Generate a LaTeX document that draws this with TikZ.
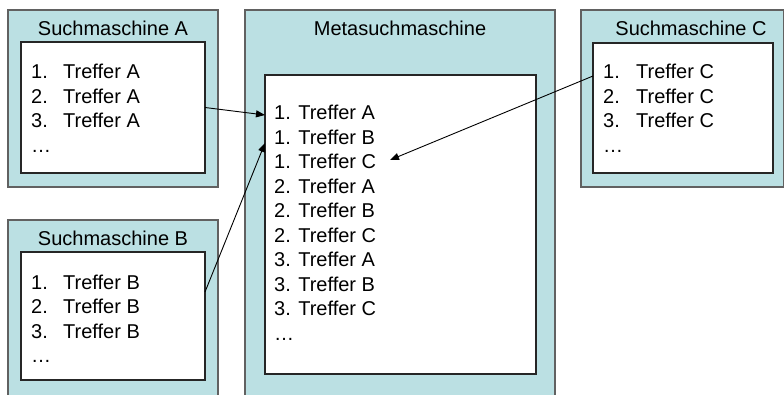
\documentclass[tikz,border=0pt]{standalone}
\usepackage{fontspec}
\setmainfont{Liberation Sans}
\usetikzlibrary{arrows.meta}
\definecolor{panelblue}{RGB}{187,224,227}
\newcommand{\hitfont}{\fontsize{20}{24.5}\selectfont}

\begin{document}
\begin{tikzpicture}[
  x=1pt, y=-1pt,
  panel/.style={rectangle, draw=black!62, fill=panelblue, line width=1.2pt, anchor=north west, inner sep=0pt, outer sep=0pt},
  sheet/.style={rectangle, draw=black!85, fill=white, line width=1.2pt, anchor=north west, inner sep=0pt, outer sep=0pt},
  heading/.style={anchor=base, inner sep=0pt, font=\hitfont},
  hit/.style={anchor=base west, inner sep=0pt, font=\hitfont},
  link/.style={-{Triangle[length=9pt, width=7pt]}, line width=0.9pt}
]
  \useasboundingbox (0,0) rectangle (784,395);
  \clip (0,0) rectangle (784,395);

  % the three search engines
  \node (aBox) [panel, minimum width=210pt, minimum height=177pt] at (8,10) {};
  \node (aList) [sheet, minimum width=184pt, minimum height=131pt] at (21,42) {};
  \node (bBox) [panel, minimum width=210pt, minimum height=180pt] at (8,220) {};
  \node (bList) [sheet, minimum width=184pt, minimum height=128pt] at (21,252) {};
  \node (cBox) [panel, minimum width=202.5pt, minimum height=177pt] at (581,10) {};
  \node (cList) [sheet, minimum width=180pt, minimum height=130pt] at (593,43) {};

  % the meta search engine
  \node (metaBox) [panel, minimum width=310pt, minimum height=390pt] at (245,10) {};
  \node (metaList) [sheet, minimum width=271pt, minimum height=299pt] at (265,75) {};

  \node (aTitle) [heading] at (113,35.5) {Suchmaschine A};
  \node (bTitle) [heading] at (113,246) {Suchmaschine B};
  \node (cTitle) [heading] at (691,35.5) {Suchmaschine C};
  \node (metaTitle) [heading] at (400,35.5) {Metasuchmaschine};

  % hit lists of the single engines
  \foreach \n in {1,2,3} {
    \node (aNum\n) [hit] at (31, {54.5+24.5*\n}) {\n.};
    \node (aHit\n) [hit] at (63, {54.5+24.5*\n}) {Treffer A};
    \node (bNum\n) [hit] at (31, {264.5+24.5*\n}) {\n.};
    \node (bHit\n) [hit] at (63, {264.5+24.5*\n}) {Treffer B};
    \node (cNum\n) [hit] at (603, {54.5+24.5*\n}) {\n.};
    \node (cHit\n) [hit] at (636, {54.5+24.5*\n}) {Treffer C};
  }
  \node (aMore) [hit] at (31,152.5) {…};
  \node (bMore) [hit] at (31,362.5) {…};
  \node (cMore) [hit] at (603,152.5) {…};

  % merged list
  \foreach \r [count=\k from 0] in {1,2,3}
    \foreach \s [count=\j from 0] in {A,B,C}
      \node (meta\r\s) [hit] at (274, {120+24.5*(3*\k+\j)}) {\r. Treffer \s};
  \node (metaMore) [hit] at (274,340.5) {…};

  \coordinate (hitC) at (390,160);
  \draw[link] (aList.east) -- ([yshift=-40pt]metaList.north west);
  \draw[link] ([yshift=24pt]bList.east) -- ([yshift=-68pt]metaList.north west);
  \draw[link] ([yshift=-33pt]cList.north west) -- (hitC);
\end{tikzpicture}
\end{document}
